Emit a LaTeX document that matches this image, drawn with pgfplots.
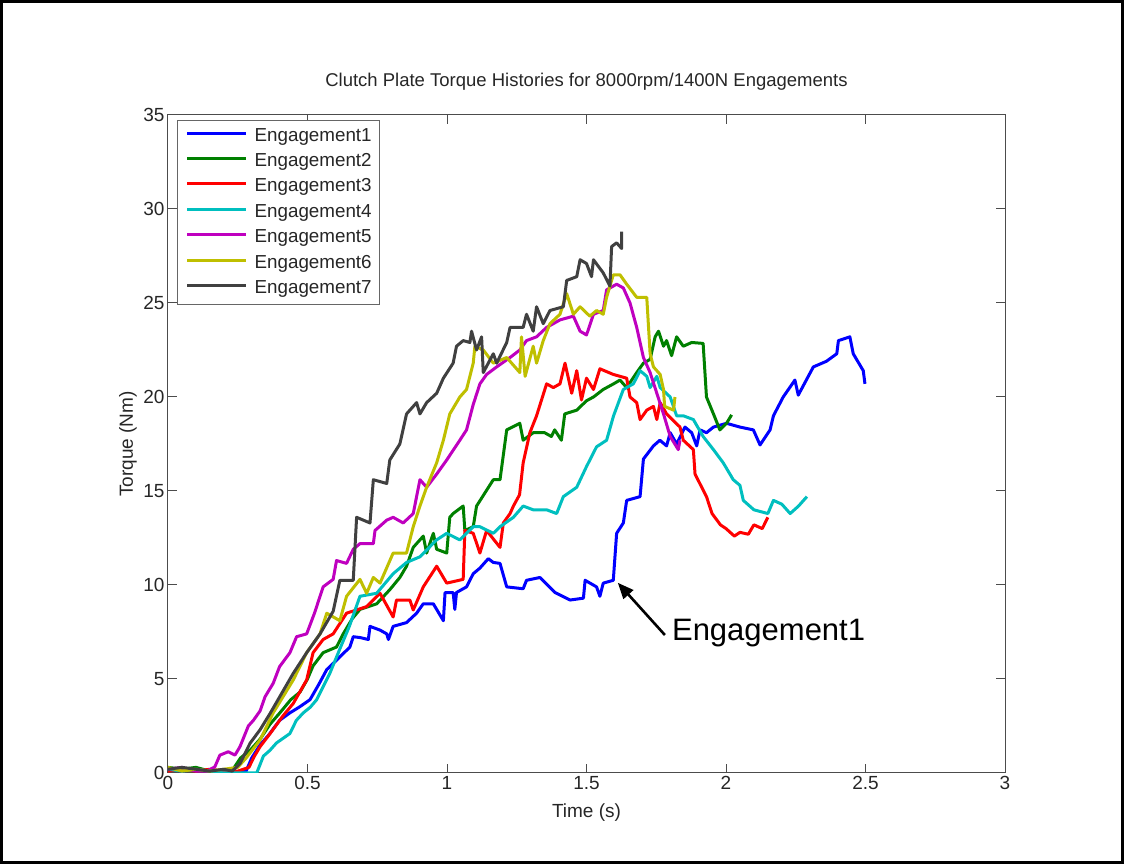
\documentclass[border=0pt]{standalone}
\usepackage{fontspec}
\setmainfont{Liberation Sans}
\usepackage{pgfplots}
\usepackage{pgfplotstable}
\pgfplotsset{compat=1.18}
\usetikzlibrary{arrows.meta}
\definecolor{cA}{rgb}{0,0,1}
\definecolor{cB}{rgb}{0,0.5,0}
\definecolor{cC}{rgb}{1,0,0}
\definecolor{cD}{rgb}{0,0.75,0.75}
\definecolor{cE}{rgb}{0.75,0,0.75}
\definecolor{cF}{rgb}{0.75,0.75,0}
\definecolor{cG}{rgb}{0.25,0.25,0.25}

\pgfplotstableread{
t T
0 0.2
0.05 0.1
0.1 0.2
0.15 0.1
0.2 0.1
0.25 0.0
0.28 0.1
0.3 0.8
0.33 1.5
0.36 2.0
0.4 2.8
0.437 3.2
0.47 3.5
0.509 3.9
0.54 4.7
0.569 5.5
0.604 6.0
0.652 6.7
0.664 7.25
0.69 7.2
0.718 7.1
0.724 7.8
0.76 7.6
0.784 7.4
0.79 7.1
0.807 7.8
0.855 8.0
0.891 8.5
0.915 9.0
0.951 9.0
0.987 8.1
0.993 9.6
1.022 9.6
1.028 8.7
1.034 9.6
1.07 9.9
1.094 10.6
1.118 10.9
1.148 11.4
1.166 11.2
1.19 11.15
1.214 9.9
1.273 9.8
1.285 10.25
1.333 10.4
1.36 10.0
1.387 9.6
1.441 9.2
1.489 9.3
1.495 10.25
1.536 9.9
1.548 9.4
1.56 10.1
1.596 10.25
1.608 12.75
1.632 13.3
1.644 14.5
1.692 14.7
1.704 16.7
1.74 17.4
1.763 17.7
1.787 17.4
1.8 18.1
1.823 17.5
1.853 18.4
1.877 18.1
1.895 17.4
1.907 18.25
1.93 18.1
1.955 18.4
2.002 18.6
2.05 18.4
2.098 18.25
2.122 17.45
2.158 18.25
2.17 19.0
2.205 20.0
2.247 20.9
2.259 20.1
2.313 21.6
2.36 21.9
2.397 22.3
2.403 23.0
2.444 23.2
2.456 22.3
2.492 21.4
2.498 20.7
}\engA

\pgfplotstableread{
t T
0 0.3
0.05 0.2
0.1 0.3
0.15 0.1
0.2 0.1
0.233 0.2
0.26 0.8
0.294 1.2
0.33 1.8
0.366 2.6
0.401 3.2
0.44 3.9
0.473 4.3
0.5 5.0
0.52 5.7
0.556 6.4
0.604 6.7
0.628 7.4
0.66 8.2
0.688 8.7
0.748 9.0
0.795 9.75
0.831 10.4
0.855 11.0
0.879 12.0
0.915 12.6
0.927 11.7
0.951 12.75
0.963 11.9
0.999 11.7
1.01 13.6
1.022 13.8
1.058 14.2
1.064 12.9
1.094 13.1
1.106 14.2
1.166 15.6
1.19 15.6
1.214 18.25
1.261 18.6
1.273 17.7
1.309 18.1
1.35 18.1
1.374 17.9
1.386 18.25
1.41 17.7
1.422 19.1
1.465 19.3
1.5 19.8
1.525 20.0
1.56 20.4
1.597 20.7
1.62 20.9
1.644 20.5
1.68 21.3
1.704 21.8
1.728 22.0
1.746 23.2
1.758 23.5
1.776 22.7
1.787 23.0
1.805 22.2
1.823 23.2
1.847 22.7
1.877 22.9
1.918 22.85
1.93 20.0
1.955 19.1
1.978 18.25
2.002 18.6
2.02 19.05
}\engB

\pgfplotstableread{
t T
0 0.1
0.05 0.2
0.1 0.1
0.15 0.2
0.2 0.1
0.25 0.1
0.29 0.3
0.31 0.9
0.33 1.4
0.366 2.1
0.41 3.0
0.449 3.7
0.497 4.95
0.52 6.4
0.556 7.1
0.592 7.4
0.64 8.5
0.712 8.85
0.76 9.56
0.807 8.3
0.819 9.2
0.867 9.2
0.879 8.67
0.915 9.9
0.963 11.0
0.999 10.1
1.058 10.3
1.064 12.9
1.094 12.75
1.118 11.7
1.142 12.9
1.19 12.0
1.202 13.3
1.226 13.8
1.238 14.2
1.26 14.8
1.273 16.5
1.297 18.1
1.321 19.0
1.357 20.7
1.381 20.5
1.405 20.7
1.423 21.8
1.447 20.2
1.465 21.4
1.482 19.84
1.5 21.0
1.525 20.4
1.548 21.5
1.596 21.2
1.644 21.0
1.656 20.0
1.68 19.7
1.692 18.8
1.716 19.3
1.74 19.5
1.752 18.8
1.764 19.7
1.787 19.1
1.835 18.4
1.847 17.7
1.883 17.2
1.889 15.9
1.93 14.7
1.95 13.8
1.98 13.2
2.0 13.0
2.03 12.6
2.05 12.8
2.08 12.7
2.1 13.2
2.13 13.0
2.15 13.6
}\engC

\pgfplotstableread{
t T
0 0.2
0.05 0.1
0.1 0.2
0.15 0.1
0.2 0.0
0.25 0.0
0.3 0.0
0.318 0.0
0.342 0.9
0.365 1.2
0.389 1.6
0.437 2.1
0.46 2.8
0.485 3.2
0.51 3.5
0.533 3.9
0.58 5.3
0.616 6.6
0.65 7.8
0.688 9.4
0.748 9.56
0.807 10.6
0.855 11.2
0.903 11.5
0.963 12.4
0.999 12.75
1.046 12.4
1.094 13.1
1.118 13.1
1.166 12.75
1.19 13.1
1.238 13.6
1.273 14.2
1.309 14.0
1.357 14.0
1.393 13.8
1.417 14.7
1.465 15.2
1.5 16.3
1.536 17.35
1.572 17.7
1.597 19.0
1.632 20.4
1.668 20.7
1.692 21.4
1.716 21.1
1.728 20.5
1.752 21.1
1.764 20.5
1.8 20.0
1.823 19.0
1.847 19.0
1.883 18.8
1.918 17.9
1.955 17.2
1.99 16.5
2.026 15.6
2.05 15.3
2.062 14.5
2.1 14.0
2.15 13.8
2.17 14.5
2.2 14.3
2.23 13.8
2.26 14.2
2.29 14.7
}\engD

\pgfplotstableread{
t T
0 0.2
0.05 0.3
0.1 0.1
0.14 0.1
0.168 0.33
0.186 0.95
0.216 1.13
0.24 0.95
0.258 1.4
0.288 2.5
0.306 2.8
0.33 3.3
0.348 4.06
0.377 4.77
0.4 5.66
0.437 6.4
0.461 7.25
0.497 7.4
0.525 8.5
0.556 9.9
0.592 10.3
0.604 11.3
0.64 11.15
0.664 11.9
0.688 12.2
0.736 12.2
0.742 12.9
0.784 13.45
0.807 13.6
0.843 13.3
0.879 13.8
0.903 15.6
0.927 15.2
0.963 15.9
0.999 16.65
1.046 17.7
1.07 18.25
1.094 19.6
1.118 20.7
1.142 21.2
1.178 21.6
1.226 22.1
1.261 22.5
1.285 23.0
1.321 23.2
1.357 23.7
1.405 24.1
1.453 24.3
1.477 23.5
1.5 23.3
1.525 24.4
1.56 24.6
1.572 25.7
1.608 26.0
1.632 25.8
1.656 25.0
1.68 23.7
1.704 22.1
1.728 21.3
1.752 20.2
1.776 19.1
1.8 17.9
1.829 17.2
1.835 17.7
}\engE

\pgfplotstableread{
t T
0 0.3
0.05 0.1
0.1 0.2
0.15 0.1
0.2 0.2
0.25 0.3
0.28 0.8
0.33 1.75
0.377 3.2
0.41 4.0
0.449 4.95
0.497 6.4
0.545 7.4
0.569 8.5
0.616 8.1
0.64 9.4
0.688 10.3
0.712 9.56
0.736 10.4
0.76 10.1
0.807 11.7
0.855 11.7
0.879 13.1
0.903 14.2
0.927 15.2
0.963 16.5
0.987 17.7
1.01 19.1
1.046 20.0
1.07 20.4
1.094 21.8
1.1 22.7
1.13 22.5
1.166 21.8
1.214 22.1
1.261 21.3
1.267 23.2
1.28 21.1
1.309 22.7
1.321 21.8
1.345 23.0
1.369 23.9
1.405 24.4
1.429 25.5
1.453 24.4
1.477 24.8
1.512 24.3
1.536 24.6
1.56 24.4
1.572 25.3
1.596 26.5
1.62 26.5
1.644 26.0
1.68 25.3
1.716 25.3
1.728 22.3
1.74 21.6
1.764 21.2
1.776 20.4
1.78 19.5
1.812 19.3
1.817 20.0
}\engF

\pgfplotstableread{
t T
0 0.2
0.05 0.3
0.1 0.2
0.15 0.1
0.2 0.2
0.23 0.1
0.258 0.5
0.294 1.58
0.33 2.3
0.366 3.17
0.41 4.3
0.449 5.3
0.497 6.4
0.545 7.4
0.592 8.6
0.616 10.25
0.664 10.25
0.676 13.6
0.724 13.3
0.736 15.6
0.784 15.4
0.795 16.65
0.831 17.5
0.855 19.1
0.891 19.7
0.903 19.1
0.927 19.7
0.963 20.2
0.987 21.0
1.022 21.8
1.034 22.7
1.058 23.0
1.082 22.9
1.088 23.5
1.106 22.5
1.124 23.2
1.13 21.3
1.166 22.3
1.178 21.8
1.214 22.9
1.226 23.7
1.273 23.7
1.285 24.4
1.309 23.5
1.321 24.8
1.345 23.9
1.369 24.6
1.417 24.8
1.429 26.2
1.465 26.4
1.477 27.3
1.5 27.1
1.518 26.4
1.525 27.3
1.56 26.6
1.584 25.9
1.59 28.0
1.608 28.2
1.626 27.9
1.626 28.8
}\engG

\begin{document}
\begin{tikzpicture}
\draw[line width=3pt] (-166.5pt,-89.5pt) rectangle (954.5pt,771.5pt);
\begin{axis}[
  at={(0pt,0pt)}, anchor=south west,
  scale only axis, width=837pt, height=658pt,
  xmin=0, xmax=3, ymin=0, ymax=35,
  xtick={0,0.5,1,1.5,2,2.5,3},
  ytick={0,5,10,15,20,25,30,35},
  tick align=inside, xtick pos=both, ytick pos=both,
  xticklabel pos=lower, yticklabel pos=left,
  major tick length=9pt,
  axis line style={black!70, line width=1pt},
  every tick/.style={black!70, line width=1pt},
  ticklabel style={font=\fontsize{19}{22}\selectfont, text=black!85},
  /pgf/number format/assume math mode=true,
  title={Clutch Plate Torque Histories for 8000rpm/1400N Engagements},
  title style={font=\fontsize{18.5}{22}\selectfont, at={(0.5,1)}, anchor=center, yshift=27pt, text=black!85},
  xlabel={Time (s)}, ylabel={Torque (Nm)},
  label style={font=\fontsize{19}{22}\selectfont, text=black!85},
  xlabel style={at={(0.5,0)}, anchor=center, yshift=-40pt},
  ylabel style={at={(0,0.5)}, anchor=center, xshift=0pt, yshift=40pt},
  legend cell align=left,
  legend style={at={(0.011,0.993)}, anchor=north west, draw=black!60, line width=0.8pt, fill=white,
    font=\fontsize{18.8}{22}\selectfont, inner xsep=8pt, inner ysep=7pt,
    nodes={inner sep=0pt, text height=14pt, text depth=4pt, text=black!85},
    row sep=7.4pt, column sep=7pt},
  legend image code/.code={\draw[#1, line width=3pt] (0pt,0.3em) -- (59pt,0.3em);},
  every axis plot/.append style={line width=3pt, line join=round},
  clip=true,
]
\addplot[cA] table[x=t,y=T] {\engA}; \addlegendentry{Engagement1}
\addplot[cB] table[x=t,y=T] {\engB}; \addlegendentry{Engagement2}
\addplot[cC] table[x=t,y=T] {\engC}; \addlegendentry{Engagement3}
\addplot[cD] table[x=t,y=T] {\engD}; \addlegendentry{Engagement4}
\addplot[cE] table[x=t,y=T] {\engE}; \addlegendentry{Engagement5}
\addplot[cF] table[x=t,y=T] {\engF}; \addlegendentry{Engagement6}
\addplot[cG] table[x=t,y=T] {\engG}; \addlegendentry{Engagement7}
\draw[-{Triangle[length=16pt,width=13pt]}, line width=2.6pt] (axis cs:1.781,7.34) -- (axis cs:1.612,10.12);
\node[anchor=west, font=\fontsize{31}{36}\selectfont, inner sep=0pt] at (axis cs:1.806,7.45) {Engagement1};
\end{axis}
\pgfresetboundingbox
\path[use as bounding box] (-168pt,-91pt) rectangle (956pt,773pt);
\end{tikzpicture}
\end{document}
